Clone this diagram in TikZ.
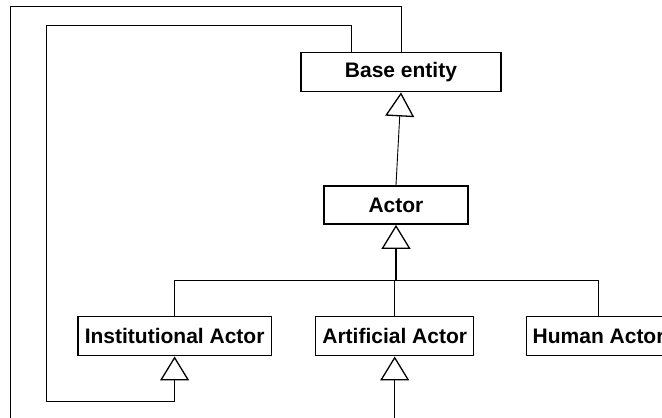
\documentclass[tikz,border=0pt]{standalone}
\usepackage{fontspec}
\setmainfont{Liberation Sans}
\usetikzlibrary{arrows.meta}
\begin{document}
\begin{tikzpicture}[x=1pt,y=-1pt,
  cls/.style={draw, line width=1.5pt, inner sep=0pt, minimum height=39pt,
    font=\fontsize{21}{25}\selectfont\bfseries},
  link/.style={line width=0.9pt},
  gen/.style={link, -{Triangle[open, length=24pt, width=29pt, line width=1.3pt]}},
]
\useasboundingbox (0,0) rectangle (662,418);
\clip (0,0) rectangle (662,418);

% classes
\node[cls, minimum width=200pt]   (base)  at (401,72.2)  {Base entity};
\node[cls, minimum width=143.7pt, minimum height=38.3pt] (actor) at (396,205) {Actor};
\node[cls, minimum width=193.7pt] (inst)  at (174.6,336.2) {Institutional Actor};
\node[cls, minimum width=158pt]   (art)   at (394.7,336.2) {Artificial Actor};
\node[cls, minimum width=144.4pt] (human) at (598.6,336.2) {Human Actor};

% helper points
\coordinate (j)    at (396,280);
\coordinate (outA) at (401,6);
\coordinate (outB) at (10.5,6);
\coordinate (outC) at (10.5,430);
\coordinate (inA)  at (351,25);
\coordinate (inB)  at (46.4,25);
\coordinate (inC)  at (46.4,401.7);
\coordinate (artIn) at (394.7,430);

% generalisation Actor -> Base entity
\draw[gen] (actor.north) -- (base.south);

% subclasses of Actor
\draw[gen, line width=1.6pt] (j) -- (actor.south);
\draw[link] (inst.north) |- (human.north |- j) -- (human.north);
\draw[link] (art.north) -- (art.north |- j);

% loops around the left side
\draw[link] (base.north -| outA) |- (outB) -- (outC);
\draw[gen] (base.north -| inA) |- (inB) -- (inC) -| (inst.south);
\draw[gen] (artIn) -- (art.south);
\end{tikzpicture}
\end{document}
